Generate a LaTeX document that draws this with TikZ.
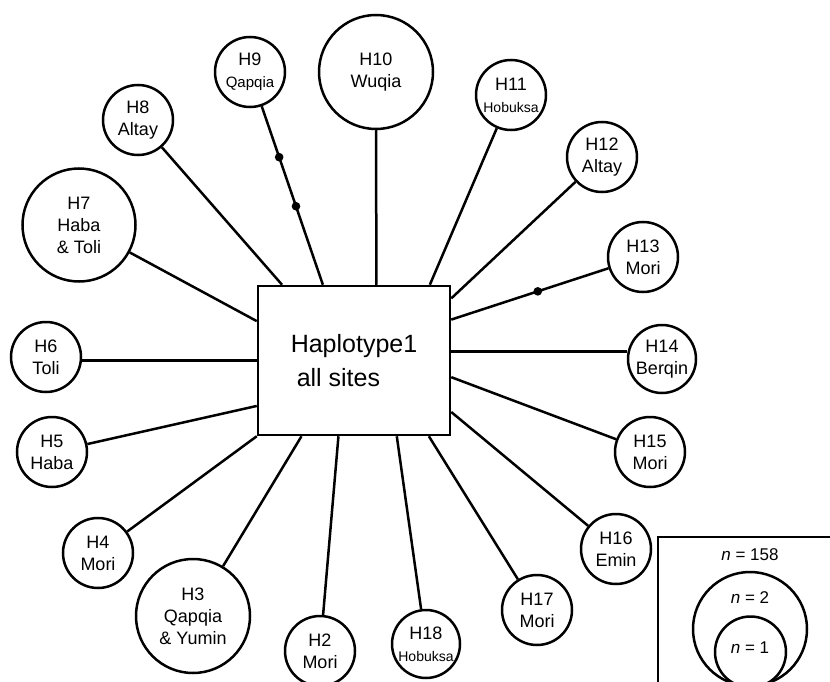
\documentclass[tikz,border=0pt]{standalone}
\usepackage{fontspec}
\setmainfont{Liberation Sans}
\usetikzlibrary{calc}

\begin{document}
\begin{tikzpicture}[x=1pt,y=-1pt,
  haplo/.style={circle,draw,line width=2.5pt,inner sep=0pt,align=center,font=\fontsize{18}{22}\selectfont},
  link/.style={line width=2.5pt},
  mut/.style={circle,draw,fill=black,line width=1.5pt,inner sep=0pt,minimum size=7pt},
  keytext/.style={font=\fontsize{17}{20}\selectfont}]
\useasboundingbox (0,0) rectangle (830,682);

%Shape: centre haplotype
\node[draw,line width=2.5pt,minimum width=192pt,minimum height=149pt,align=left,font=\fontsize{25}{34}\selectfont] (H1) at (354,360.5) {Haplotype1\\\hspace*{6pt}all sites};

%Shape: circles
\node[haplo,minimum size=70pt] (H2) at (320,651) {H2\\Mori};
\node[haplo,minimum size=114pt] (H3) at (193,616) {H3\\Qapqia\\\& Yumin};
\node[haplo,minimum size=70pt] (H4) at (98,553) {H4\\Mori};
\node[haplo,minimum size=70pt] (H5) at (52,452) {H5\\Haba};
\node[haplo,minimum size=70pt] (H6) at (46,357) {H6\\Toli};
\node[haplo,minimum size=113pt] (H7) at (79,225) {H7\\Haba\\\& Toli};
\node[haplo,minimum size=70pt] (H8) at (138,120) {H8\\Altay};
\node[haplo,minimum size=70pt] (H9) at (250,72) {H9\\{\fontsize{15}{17}\selectfont Qapqia}};
\node[haplo,minimum size=114pt] (H10) at (376,72) {H10\\Wuqia};
\node[haplo,minimum size=70pt] (H11) at (511,95) {H11\\{\fontsize{14}{16}\selectfont Hobuksa}};
\node[haplo,minimum size=70pt] (H12) at (602,157) {H12\\Altay};
\node[haplo,minimum size=70pt] (H13) at (643,257) {H13\\Mori};
\node[haplo,minimum size=68pt] (H14) at (662,359) {H14\\Berqin};
\node[haplo,minimum size=70pt] (H15) at (650,452) {H15\\Mori};
\node[haplo,minimum size=70pt] (H16) at (616,549) {H16\\Emin};
\node[haplo,minimum size=70pt] (H17) at (537,610) {H17\\Mori};
\node[haplo,minimum size=68pt] (H18) at (426,644) {H18\\{\fontsize{14}{16}\selectfont Hobuksa}};

%Straight Lines: top
\draw[link] (H8) -- ($(H1.north west)!0.13!(H1.north east)$);
\draw[link] (H9) -- ($(H1.north west)!0.34!(H1.north east)$) node[mut,pos=0.285] (m1) {} node[mut,pos=0.56] (m2) {};
\draw[link] (H10) -- ($(H1.north west)!0.615!(H1.north east)$);
\draw[link] (H11) -- ($(H1.north west)!0.89!(H1.north east)$);
%Straight Lines: right
\draw[link] (H12) -- ($(H1.north east)!0.09!(H1.south east)$);
\draw[link] (H13) -- ($(H1.north east)!0.23!(H1.south east)$) node[mut,pos=0.45] (m3) {};
\coordinate (c14) at ($(H1.north east)!0.44!(H1.south east)$);
\draw[link] (c14) -- (c14 -| H14.west);
\draw[link] (H15) -- ($(H1.north east)!0.61!(H1.south east)$);
\draw[link] (H16) -- ($(H1.north east)!0.84!(H1.south east)$);
%Straight Lines: bottom
\draw[link] (H17) -- ($(H1.south west)!0.885!(H1.south east)$);
\draw[link] (H18) -- ($(H1.south west)!0.72!(H1.south east)$);
\draw[link] (H2) -- ($(H1.south west)!0.42!(H1.south east)$);
\draw[link] (H3) -- ($(H1.south west)!0.23!(H1.south east)$);
\draw[link] (H4) -- (H1.south west);
%Straight Lines: left
\draw[link] (H5) -- ($(H1.north west)!0.8!(H1.south west)$);
\draw[link] (H1.west) -- (H1.west -| H6.east);
\draw[link] (H7) -- ($(H1.north west)!0.24!(H1.south west)$);

%Shape: key
\begin{scope}
\clip (0,0) rectangle (830,682);
\draw[link] (658,537) rectangle (870,720);
\draw[link] (750,629) circle[radius=57];
\draw[link] (750.5,652) circle[radius=35.5];
\end{scope}
\node[keytext] (n158) at (750,555) {\textit{n} = 158};
\node[keytext] (n2) at (750,598) {\textit{n} = 2};
\node[keytext] (n1) at (750,648) {\textit{n} = 1};

\end{tikzpicture}
\end{document}
